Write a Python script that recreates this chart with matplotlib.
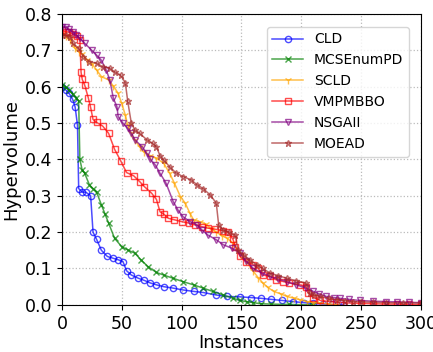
import matplotlib
matplotlib.use('Agg')
import matplotlib.pyplot as plt

# hypervolume per instance
cld_x = [0, 3, 6, 9, 11, 13, 14, 17, 20, 24, 26, 29, 33, 38, 43, 47, 51, 54, 58, 64,
         69, 74, 79, 85, 93, 101, 110, 118, 129, 138, 149, 158, 166, 175, 184, 193,
         202, 210, 218, 226, 235]
cld_y = [0.600, 0.592, 0.582, 0.565, 0.545, 0.495, 0.320, 0.310, 0.310, 0.300, 0.200,
         0.180, 0.150, 0.133, 0.128, 0.124, 0.119, 0.094, 0.082, 0.073, 0.067, 0.060,
         0.055, 0.050, 0.046, 0.041, 0.037, 0.034, 0.027, 0.023, 0.022, 0.020, 0.018,
         0.015, 0.012, 0.009, 0.006, 0.004, 0.002, 0.001, 0.000]

mcs_x = [0, 3, 6, 9, 12, 14, 15, 17, 19, 23, 26, 29, 33, 36, 39, 44, 50, 55, 61, 66,
         72, 79, 85, 93, 101, 110, 118, 126, 135, 143, 149, 155, 160, 166, 175, 190, 210]
mcs_y = [0.605, 0.600, 0.590, 0.580, 0.570, 0.560, 0.400, 0.370, 0.362, 0.330, 0.320,
         0.310, 0.275, 0.250, 0.225, 0.183, 0.160, 0.151, 0.142, 0.124, 0.105, 0.089,
         0.082, 0.073, 0.064, 0.055, 0.046, 0.037, 0.027, 0.018, 0.012, 0.008, 0.006,
         0.003, 0.002, 0.001, 0.000]

scld_x = [0, 3, 7, 11, 14, 17, 21, 25, 29, 33, 39, 43, 47, 50, 53, 55, 58, 61, 65, 69,
          74, 79, 85, 90, 94, 99, 103, 107, 110, 115, 120, 125, 129, 134, 138, 143, 149,
          154, 160, 164, 168, 172, 177, 183, 188, 194, 199, 205, 210, 216, 222, 230]
scld_y = [0.745, 0.740, 0.729, 0.706, 0.697, 0.690, 0.675, 0.664, 0.646, 0.628, 0.619,
          0.602, 0.582, 0.554, 0.522, 0.495, 0.472, 0.454, 0.435, 0.420, 0.410, 0.403,
          0.390, 0.362, 0.335, 0.298, 0.280, 0.252, 0.234, 0.229, 0.222, 0.210, 0.200,
          0.190, 0.183, 0.170, 0.140, 0.120, 0.092, 0.075, 0.060, 0.048, 0.037, 0.030,
          0.023, 0.018, 0.014, 0.009, 0.006, 0.004, 0.002, 0.000]

vmp_x = [0, 3, 6, 9, 13, 15, 16, 17, 19, 22, 24, 26, 29, 34, 39, 44, 49, 54, 60, 65,
         69, 75, 79, 82, 85, 89, 94, 100, 106, 111, 117, 122, 128, 135, 139, 143, 145,
         149, 154, 160, 164, 168, 174, 179, 185, 190, 199, 204, 206, 210, 216, 224, 232,
         240, 250, 260, 270, 280, 290, 300]
vmp_y = [0.755, 0.752, 0.750, 0.745, 0.740, 0.730, 0.640, 0.620, 0.605, 0.570, 0.543,
         0.510, 0.502, 0.492, 0.472, 0.428, 0.397, 0.364, 0.355, 0.339, 0.325, 0.307,
         0.290, 0.256, 0.250, 0.238, 0.234, 0.229, 0.225, 0.220, 0.215, 0.211, 0.208,
         0.204, 0.200, 0.180, 0.160, 0.133, 0.119, 0.110, 0.100, 0.082, 0.078, 0.069,
         0.064, 0.060, 0.055, 0.050, 0.032, 0.020, 0.012, 0.009, 0.007, 0.005, 0.004,
         0.003, 0.002, 0.002, 0.001, 0.001]

nsga_x = [0, 3, 6, 9, 12, 15, 19, 25, 29, 33, 37, 40, 43, 46, 47, 51, 55, 58, 61, 67,
          71, 74, 78, 82, 87, 93, 97, 101, 107, 113, 117, 122, 129, 135, 142, 149, 154,
          160, 167, 174, 181, 188, 196, 204, 210, 215, 221, 227, 232, 240, 249, 260,
          271, 280, 290, 300]
nsga_y = [0.765, 0.765, 0.758, 0.752, 0.742, 0.733, 0.720, 0.700, 0.687, 0.673, 0.646,
          0.619, 0.568, 0.545, 0.518, 0.500, 0.486, 0.472, 0.454, 0.435, 0.417, 0.400,
          0.385, 0.362, 0.335, 0.284, 0.261, 0.243, 0.229, 0.220, 0.206, 0.192, 0.179,
          0.165, 0.156, 0.142, 0.120, 0.100, 0.088, 0.078, 0.070, 0.064, 0.055, 0.046,
          0.037, 0.030, 0.023, 0.020, 0.018, 0.015, 0.012, 0.010, 0.009, 0.008, 0.007,
          0.006]

moead_x = [0, 3, 7, 9, 14, 18, 23, 29, 34, 40, 44, 49, 53, 55, 58, 61, 65, 71, 76, 79,
           82, 85, 90, 95, 101, 108, 113, 118, 124, 129, 131, 135, 140, 145, 147, 152,
           157, 163, 168, 174, 181, 188, 196, 204, 207, 211, 216, 223, 230, 237, 243,
           250, 260, 271, 285, 300]
moead_y = [0.742, 0.742, 0.738, 0.720, 0.706, 0.683, 0.669, 0.665, 0.655, 0.651, 0.641,
           0.632, 0.611, 0.560, 0.500, 0.481, 0.472, 0.454, 0.444, 0.435, 0.410, 0.399,
           0.380, 0.364, 0.353, 0.344, 0.330, 0.320, 0.302, 0.280, 0.220, 0.206, 0.200,
           0.192, 0.151, 0.137, 0.124, 0.110, 0.100, 0.087, 0.080, 0.073, 0.066, 0.060,
           0.032, 0.027, 0.023, 0.018, 0.014, 0.011, 0.009, 0.008, 0.007, 0.006, 0.005,
           0.005]

series = [
    ('CLD', cld_x, cld_y, 'blue', 'o', 4.5),
    ('MCSEnumPD', mcs_x, mcs_y, 'green', 'x', 4),
    ('SCLD', scld_x, scld_y, 'orange', '1', 6),
    ('VMPMBBO', vmp_x, vmp_y, 'red', 's', 5),
    ('NSGAII', nsga_x, nsga_y, 'purple', 'v', 5),
    ('MOEAD', moead_x, moead_y, 'brown', '*', 5),
]

fig = plt.figure(figsize=(4.33, 3.52), dpi=100)
ax = fig.add_axes([0.143, 0.134, 0.829, 0.826])

for name, xs, ys, col, mk, ms in series:
    ax.plot(xs, ys, color=col, marker=mk, markersize=ms, markerfacecolor='none',
            markeredgewidth=1.0, linewidth=1.1, alpha=0.7, label=name)

ax.set_xlim(0, 300)
ax.set_ylim(0, 0.8)
ax.set_xticks(range(0, 301, 50))
ax.set_yticks([i / 10 for i in range(9)])
ax.tick_params(labelsize=12.5)
ax.set_xlabel('Instances', fontsize=13, labelpad=1)
ax.set_ylabel('Hypervolume', fontsize=13, labelpad=3)
ax.grid(True, linestyle=':', color='#bbbbbb', linewidth=0.9)
ax.legend(loc='upper right', fontsize=10, bbox_to_anchor=(0.986, 0.98),
          handlelength=2.2)

plt.savefig('out.png', dpi=100)
